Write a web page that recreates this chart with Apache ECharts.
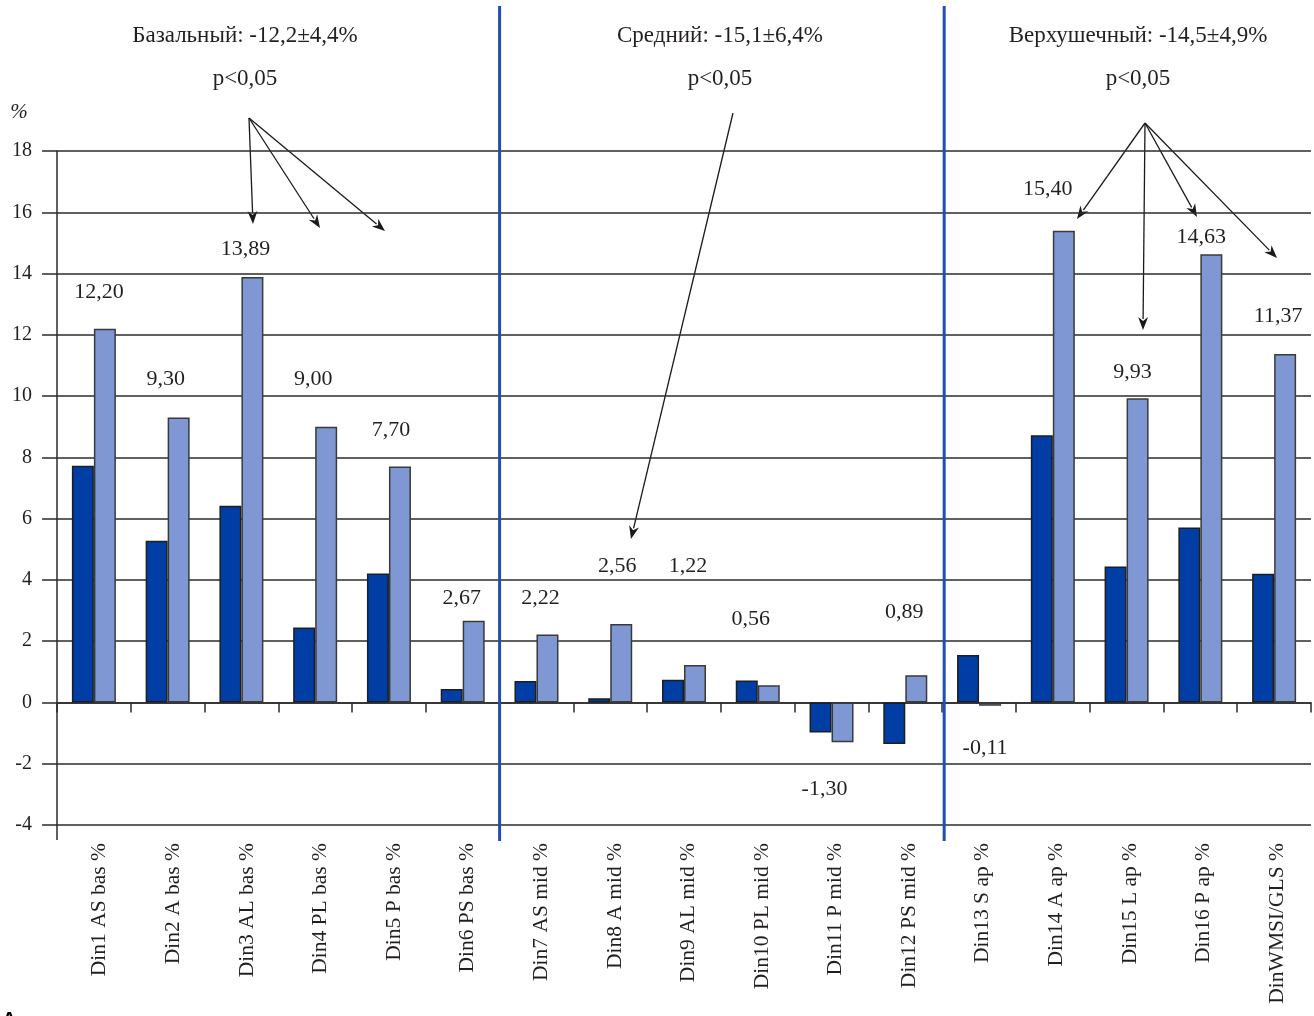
<!DOCTYPE html>
<html>
<head>
<meta charset="utf-8">
<script src="https://cdn.jsdelivr.net/npm/echarts@6/dist/echarts.min.js"></script>
<style>
  html, body { margin: 0; padding: 0; background: #fff; }
  #chart { width: 1314px; height: 1016px; }
</style>
</head>
<body>
<div id="chart"></div>
<script>
// Segment categories (basal, mid, apical) and strain values, %
const categories = [
  'Din1 AS bas %', 'Din2 A bas %', 'Din3 AL bas %', 'Din4 PL bas %', 'Din5 P bas %', 'Din6 PS bas %',
  'Din7 AS mid %', 'Din8 A mid %', 'Din9 AL mid %', 'Din10 PL mid %', 'Din11 P mid %', 'Din12 PS mid %',
  'Din13 S ap %', 'Din14 A ap %', 'Din15 L ap %', 'Din16 P ap %', 'DinWMSI/GLS %'
];
const firstValues = [7.73, 5.28, 6.42, 2.45, 4.21, 0.44, 0.70, 0.14, 0.74, 0.72, -0.98, -1.36, 1.55, 8.72, 4.44, 5.71, 4.20];
const secondValues = [12.20, 9.30, 13.89, 9.00, 7.70, 2.67, 2.22, 2.56, 1.22, 0.56, -1.30, 0.89, -0.11, 15.40, 9.93, 14.63, 11.37];
const yMin = -4, yMax = 18, yStep = 2;
const sectionTitles = ['Базальный: -12,2±4,4%', 'Средний: -15,1±6,4%', 'Верхушечный: -14,5±4,9%'];
const sectionNotes = ['p<0,05', 'p<0,05', 'p<0,05'];

// Layout: hand-placed value-label nudges (px) and annotation geometry
const labelNudge = [[-6, -20], [-13, -22], [-7, -12], [-13, -32], [-9, -20], [-12, -6], [-7, -20], [-4, -42], [-7, -83],
  [-18, -50], [-18, 31], [-12, -47], [-5, 26], [-16, -25], [-5, -10], [-10, -1], [-7, -22]];
const titleX = [245, 720, 1138];
const arrowGroups = [
  { from: [249, 118], to: [[253, 224], [320, 228], [385, 231]] },
  { from: [733, 113], to: [[631, 539]] },
  { from: [1145, 123], to: [[1077, 219], [1143, 330], [1197, 217], [1277, 258]] }
];

const FONT = '"Liberation Serif", "Times New Roman", serif';
const INK = '#231f20';
const GRID_INK = '#2b2b2b';
const PLOT = { left: 57, width: 1254, top: 151, bottom: 191 };

const chart = echarts.init(document.getElementById('chart'), null, { renderer: 'canvas' });

function fmt(v) { return v.toFixed(2).replace('.', ','); }

function arrowShapes(from, to) {
  const dx = to[0] - from[0], dy = to[1] - from[1];
  const len = Math.hypot(dx, dy);
  const ux = dx / len, uy = dy / len;
  const head = 13, half = 5;
  const bx = to[0] - ux * head, by = to[1] - uy * head;
  return [
    { type: 'line', silent: true, shape: { x1: from[0], y1: from[1], x2: bx + ux * 2, y2: by + uy * 2 },
      style: { stroke: '#1a1a1a', lineWidth: 1.3 } },
    { type: 'polygon', silent: true,
      shape: { points: [[to[0], to[1]], [bx - uy * half, by + ux * half], [bx + ux * 4, by + uy * 4], [bx + uy * half, by - ux * half]] },
      style: { fill: '#1a1a1a' } }
  ];
}

const graphics = [];
sectionTitles.forEach((t, i) => {
  graphics.push({ type: 'text', silent: true, x: titleX[i], y: 36,
    style: { text: t, font: '23px ' + FONT, fill: INK, textAlign: 'center', textVerticalAlign: 'middle' } });
  graphics.push({ type: 'text', silent: true, x: titleX[i], y: 79,
    style: { text: sectionNotes[i], font: '23px ' + FONT, fill: INK, textAlign: 'center', textVerticalAlign: 'middle' } });
});
graphics.push({ type: 'text', silent: true, x: 19, y: 112,
  style: { text: '%', font: 'italic 21px ' + FONT, fill: INK, textAlign: 'center', textVerticalAlign: 'middle' } });
graphics.push({ type: 'text', silent: true, x: 2, y: 1010,
  style: { text: 'А', font: 'bold 20px "Liberation Sans", Arial, sans-serif', fill: '#000', textAlign: 'left', textVerticalAlign: 'top' } });
arrowGroups.forEach(g => g.to.forEach(t => graphics.push(...arrowShapes(g.from, t))));

chart.setOption({
  animation: false,
  textStyle: { fontFamily: FONT, color: INK },
  grid: [
    { left: PLOT.left, width: PLOT.width, top: PLOT.top, bottom: PLOT.bottom, containLabel: false },
    // companion grid carrying only the rotated category names, set a few px to the right
    { left: PLOT.left + 6, width: PLOT.width, top: PLOT.top, bottom: PLOT.bottom, containLabel: false }
  ],
  xAxis: [
    {
      type: 'category', data: categories, position: 'bottom', gridIndex: 0,
      axisLine: { onZero: true, lineStyle: { color: GRID_INK, width: 1.5 } },
      axisTick: { show: true, length: 10, interval: 0, lineStyle: { color: GRID_INK, width: 1.5 } },
      axisLabel: { show: false },
      splitLine: { show: false }
    },
    {
      type: 'category', data: categories, position: 'bottom', gridIndex: 1,
      axisLine: { show: false, onZero: false },
      axisTick: { show: false },
      axisLabel: {
        show: true, interval: 0, rotate: 90, margin: 18,
        fontFamily: FONT, fontSize: 21.5, color: INK
      },
      splitLine: { show: false }
    }
  ],
  yAxis: [
    {
      type: 'value', min: yMin, max: yMax, interval: yStep, gridIndex: 0,
      axisLine: { show: true, lineStyle: { color: GRID_INK, width: 1.5 } },
      axisTick: { show: true, length: 15, lineStyle: { color: GRID_INK, width: 1.5 } },
      axisLabel: { fontFamily: FONT, fontSize: 20, color: INK, margin: 25 },
      splitLine: { show: true, lineStyle: { color: GRID_INK, width: 1.5 } }
    },
    {
      type: 'value', min: yMin, max: yMax, interval: yStep, gridIndex: 1, show: false
    }
  ],
  series: [
    {
      name: 'Серия 1', type: 'bar', xAxisIndex: 0, yAxisIndex: 0, barWidth: 22, barGap: '0%',
      itemStyle: { color: '#003DA5', borderColor: '#1e1e1e', borderWidth: 1.5 },
      data: firstValues
    },
    {
      name: 'Серия 2', type: 'bar', xAxisIndex: 0, yAxisIndex: 0, barWidth: 22, barGap: '0%',
      itemStyle: { color: '#7F98D3', borderColor: '#3a3a3a', borderWidth: 1.5 },
      label: {
        show: true, distance: 5, fontFamily: FONT, fontSize: 22, color: INK,
        formatter: p => fmt(p.value)
      },
      data: secondValues.map((v, i) => ({
        value: v,
        label: { position: v < 0 ? 'bottom' : 'top', offset: labelNudge[i] }
      }))
    }
  ],
  graphic: graphics
});

// Section dividers at the category boundaries, plus the y-axis stub below -4
const c5 = chart.convertToPixel({ xAxisIndex: 0 }, categories[5]);
const c6 = chart.convertToPixel({ xAxisIndex: 0 }, categories[6]);
const c11 = chart.convertToPixel({ xAxisIndex: 0 }, categories[11]);
const c12 = chart.convertToPixel({ xAxisIndex: 0 }, categories[12]);
const c0 = chart.convertToPixel({ xAxisIndex: 0 }, categories[0]);
const half = (c6 - c5) / 2;
const yBottom = chart.convertToPixel({ yAxisIndex: 0 }, yMin);
const divX = [(c5 + c6) / 2, (c11 + c12) / 2 + 2];
const extra = divX.map(x => ({ type: 'line', silent: true, z: 100,
  shape: { x1: x, y1: 6, x2: x, y2: yBottom + 16 },
  style: { stroke: '#1f4fb4', lineWidth: 3 } }));
extra.push({ type: 'line', silent: true,
  shape: { x1: c0 - half, y1: yBottom, x2: c0 - half, y2: yBottom + 15 },
  style: { stroke: GRID_INK, lineWidth: 1.5 } });
chart.setOption({ graphic: graphics.concat(extra) });
</script>
</body>
</html>
